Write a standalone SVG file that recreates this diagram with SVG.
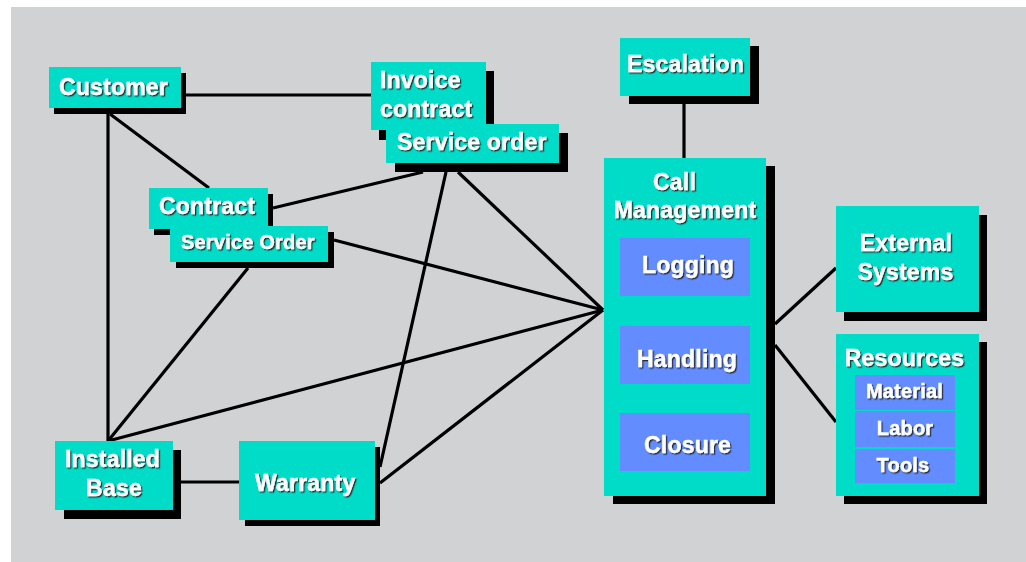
<svg xmlns="http://www.w3.org/2000/svg" width="1026" height="562" viewBox="0 0 1026 562">
<defs>
<style>
.bg{fill:#d0d2d4}
.box{fill:#00dcc8}
.sh{fill:#000}
.in{fill:#628cff}
.ln{stroke:#000;stroke-width:3.2;fill:none;stroke-linecap:butt}
.t{font-family:"Liberation Sans",Arial,sans-serif;font-weight:bold;font-size:23px;fill:#fff;stroke:#fff;stroke-width:0.4;letter-spacing:0.2px;filter:url(#ts)}
.s{font-size:20px}
.m{text-anchor:middle}
</style>
<filter id="ts" x="-10%" y="-30%" width="130%" height="160%">
<feDropShadow dx="1.3" dy="1.3" stdDeviation="0.3" flood-color="#1a1a1a" flood-opacity="0.9"/>
</filter>
</defs>
<rect class="bg" x="11" y="7" width="1015" height="555"/>
<g id="connectors">
<line class="ln" x1="186" y1="95" x2="371" y2="95"/>
<line class="ln" x1="108" y1="114" x2="108" y2="441"/>
<line class="ln" x1="110" y1="114" x2="209" y2="188"/>
<line class="ln" x1="273" y1="208" x2="423" y2="172"/>
<line class="ln" x1="446" y1="172" x2="380" y2="467"/>
<line class="ln" x1="458" y1="172" x2="603" y2="310"/>
<line class="ln" x1="334" y1="240" x2="603" y2="310"/>
<line class="ln" x1="248" y1="268" x2="108" y2="441"/>
<line class="ln" x1="108" y1="441" x2="603" y2="310"/>
<line class="ln" x1="380" y1="483" x2="603" y2="310"/>
<line class="ln" x1="181" y1="482" x2="239" y2="482"/>
<line class="ln" x1="684" y1="104" x2="684" y2="158"/>
<line class="ln" x1="775" y1="324" x2="836" y2="268"/>
<line class="ln" x1="775" y1="345" x2="836" y2="422"/>
</g>
<g id="customer">
<rect class="sh" x="54" y="73" width="132" height="41"/>
<rect class="box" x="49" y="67" width="132" height="41"/>
<text class="t" x="59" y="95">Customer</text>
</g>
<g id="invoice-contract">
<rect class="sh" x="379" y="71" width="115" height="69"/>
<rect class="box" x="371" y="62" width="115" height="68"/>
<text class="t" x="380" y="88">Invoice</text>
<text class="t" x="380" y="117">contract</text>
</g>
<g id="service-order-top">
<rect class="sh" x="395" y="133" width="173" height="39"/>
<rect class="box" x="386" y="124" width="173" height="39"/>
<text class="t" x="397" y="150">Service order</text>
</g>
<g id="contract">
<rect class="sh" x="154" y="194" width="119" height="41"/>
<rect class="box" x="149" y="188" width="119" height="41"/>
<text class="t" x="159" y="214">Contract</text>
</g>
<g id="service-order-lower">
<rect class="sh" x="176" y="232" width="158" height="36"/>
<rect class="box" x="170" y="226" width="158" height="36"/>
<text class="t s" x="181" y="249">Service Order</text>
</g>
<g id="installed-base">
<rect class="sh" x="64" y="450" width="117" height="69"/>
<rect class="box" x="55" y="441" width="118" height="69"/>
<text class="t" x="65" y="467">Installed</text>
<text class="t m" x="114" y="496">Base</text>
</g>
<g id="warranty">
<rect class="sh" x="245" y="447" width="135" height="79"/>
<rect class="box" x="239" y="441" width="136" height="79"/>
<text class="t" x="255" y="491">Warranty</text>
</g>
<g id="escalation">
<rect class="sh" x="629" y="46" width="130" height="58"/>
<rect class="box" x="620" y="38" width="130" height="58"/>
<text class="t m" x="685.5" y="72">Escalation</text>
</g>
<g id="call-management">
<rect class="sh" x="613" y="166" width="162" height="338"/>
<rect class="box" x="604" y="158" width="162" height="338"/>
<text class="t m" x="674.5" y="190">Call</text>
<text class="t m" x="685" y="218">Management</text>
<g id="logging">
<rect class="in" x="620" y="238" width="130" height="58"/>
<text class="t" x="642" y="273">Logging</text>
</g>
<g id="handling">
<rect class="in" x="620" y="326" width="130" height="58"/>
<text class="t" x="637" y="367">Handling</text>
</g>
<g id="closure">
<rect class="in" x="620" y="413" width="130" height="58"/>
<text class="t" x="644" y="453">Closure</text>
</g>
</g>
<g id="external-systems">
<rect class="sh" x="844" y="215" width="143" height="106"/>
<rect class="box" x="836" y="206" width="143" height="106"/>
<text class="t m" x="906" y="251">External</text>
<text class="t m" x="905.5" y="280">Systems</text>
</g>
<g id="resources">
<rect class="sh" x="844" y="342" width="143" height="162"/>
<rect class="box" x="836" y="334" width="143" height="162"/>
<text class="t m" x="904.5" y="366">Resources</text>
<g id="material">
<rect class="in" x="855" y="375" width="100" height="35"/>
<text class="t s m" x="904.5" y="398">Material</text>
</g>
<g id="labor">
<rect class="in" x="855" y="411" width="100" height="36"/>
<text class="t s m" x="905" y="435">Labor</text>
</g>
<g id="tools">
<rect class="in" x="855" y="449" width="100" height="34"/>
<text class="t s m" x="903" y="472">Tools</text>
</g>
</g>
</svg>
